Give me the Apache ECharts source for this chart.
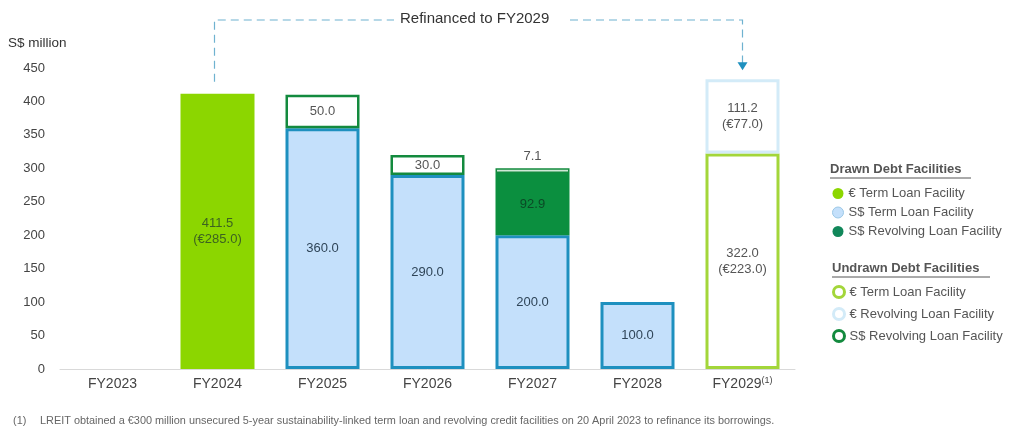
<!DOCTYPE html>
<html>
<head>
<meta charset="utf-8">
<script src="https://cdn.jsdelivr.net/npm/echarts@6/dist/echarts.min.js"></script>
<style>
  html,body{margin:0;padding:0;background:#fff;}
  #box{width:1024px;height:430px;}
</style>
</head>
<body>
<div id="box"></div>
<script>
// data
var categories = ['FY2023','FY2024','FY2025','FY2026','FY2027','FY2028','FY2029'];
var euroTermDrawn   = [null, 411.5, null, null, null, null, null];
var sgdTermDrawn    = [null, null, 360.0, 290.0, 200.0, 100.0, null];
var sgdRevDrawn     = [null, null, null, null, 92.9, null, null];
var sgdRevUndrawn   = [null, null, 50.0, 30.0, 7.1, null, null];
var euroTermUndrawn = [null, null, null, null, null, null, 322.0];
var euroRevUndrawn  = [null, null, null, null, null, null, 111.2];
// amounts in euro shown under some labels
var euroTermDrawnEur   = [null, 285.0, null, null, null, null, null];
var euroTermUndrawnEur = [null, null, null, null, null, null, 223.0];
var euroRevUndrawnEur  = [null, null, null, null, null, null, 77.0];
var yTicks = {min:0, max:450, interval:50};

var font = '"Liberation Sans", Arial, sans-serif';

var fix = arr => arr.map(v => v == null ? '-' : v);
var lbl = eur => (p => {
  var s = (+p.value).toFixed(1);
  if (eur && eur[p.dataIndex] != null) s += '\n(€' + eur[p.dataIndex].toFixed(1) + ')';
  return s;
});

function bar(name, data, style, label){
  return {
    name:name, type:'bar', stack:'debt', barWidth:74,
    data:fix(data),
    itemStyle:style,
    label:Object.assign({show:true, position:'inside', fontFamily:font, fontSize:13, color:'#444', lineHeight:16}, label),
    emphasis:{disabled:true}
  };
}

var mychart = echarts.init(document.getElementById('box'));

var option = {
  animation:false,
  textStyle:{fontFamily:font},
  grid:{left:60, right:229, top:68, bottom:61},
  xAxis:{
    type:'category', data:categories,
    axisLine:{lineStyle:{color:'#d9d9d9', width:1}},
    axisTick:{show:false},
    axisLabel:{
      interval:0, fontSize:14, color:'#444', margin:7, fontFamily:font, lineHeight:16,
      formatter: v => v == 'FY2029' ? v + '{sup|(1)}' : v,
      rich:{sup:{fontSize:9, color:'#444', lineHeight:16, verticalAlign:'top', fontFamily:font}}
    }
  },
  yAxis:{
    type:'value', min:yTicks.min, max:yTicks.max, interval:yTicks.interval,
    splitLine:{show:false},
    axisLine:{show:false}, axisTick:{show:false},
    axisLabel:{fontSize:13, color:'#444', margin:15, fontFamily:font}
  },
  legend:[{
    orient:'vertical', left:827, top:182, itemGap:6, itemWidth:11, itemHeight:11,
    selectedMode:false, icon:'circle',
    textStyle:{fontSize:13, color:'#555', fontFamily:font},
    formatter: n => n.replace(/^(Drawn|Undrawn) /, ''),
    data:[
      {name:'Drawn € Term Loan Facility', itemStyle:{color:'#8cd600', borderWidth:0}},
      {name:'Drawn S$ Term Loan Facility', itemStyle:{color:'#c4e0fb', borderColor:'#9cc8e6', borderWidth:1}},
      {name:'Drawn S$ Revolving Loan Facility', itemStyle:{color:'#11875a', borderWidth:0}}
    ]
  },{
    orient:'vertical', left:827, top:280, itemGap:8, itemWidth:11, itemHeight:11,
    selectedMode:false, icon:'circle',
    textStyle:{fontSize:13, color:'#555', fontFamily:font},
    formatter: n => n.replace(/^(Drawn|Undrawn) /, ''),
    data:[
      {name:'Undrawn € Term Loan Facility', itemStyle:{color:'#fff', borderColor:'#a3d63a', borderWidth:3}},
      {name:'Undrawn € Revolving Loan Facility', itemStyle:{color:'#fff', borderColor:'#d3ebf8', borderWidth:3}},
      {name:'Undrawn S$ Revolving Loan Facility', itemStyle:{color:'#fff', borderColor:'#138a3e', borderWidth:3}}
    ]
  }],
  series:[
    bar('Drawn € Term Loan Facility', euroTermDrawn, {color:'#8cd600'}, {color:'#3d6320', formatter:lbl(euroTermDrawnEur)}),
    bar('Drawn S$ Term Loan Facility', sgdTermDrawn, {color:'#c4e0fb', borderColor:'#1e90bf', borderWidth:3}, {color:'#2f4558', formatter:lbl(null)}),
    bar('Drawn S$ Revolving Loan Facility', sgdRevDrawn, {color:'#0b8f3f', borderColor:'#0b8f3f', borderWidth:3}, {color:'#0b4a26', formatter:lbl(null)}),
    bar('Undrawn S$ Revolving Loan Facility', sgdRevUndrawn, {color:'#fff', borderColor:'#138a3e', borderWidth:2.5}, {color:'#555', formatter:lbl(null)}),
    bar('Undrawn € Term Loan Facility', euroTermUndrawn, {color:'#fff', borderColor:'#a3d63a', borderWidth:3}, {color:'#555', formatter:lbl(euroTermUndrawnEur)}),
    bar('Undrawn € Revolving Loan Facility', euroRevUndrawn, {color:'#fff', borderColor:'#d3ebf8', borderWidth:3}, {color:'#555', formatter:lbl(euroRevUndrawnEur)})
  ]
};
// tiny top segment: label goes above the bar
option.series[3].data = sgdRevUndrawn.map(v => v == null ? '-' : (v < 10 ? {value:v, label:{position:'top', distance:4}, itemStyle:{borderWidth:1.5, color:'#cfe8d6'}} : v));

mychart.setOption(option);

// refinancing connector, placed from the axes
var x24 = mychart.convertToPixel({xAxisIndex:0}, 'FY2024');
var x29 = mychart.convertToPixel({xAxisIndex:0}, 'FY2029');
var y24 = mychart.convertToPixel({yAxisIndex:0}, euroTermDrawn[1]);
var y29 = mychart.convertToPixel({yAxisIndex:0}, euroTermUndrawn[6] + euroRevUndrawn[6]);
var lineY = 20, mid = (x24 + x29) / 2;
var dash = {stroke:'#6fb2d0', lineWidth:1.2, lineDash:[8,5], fill:null};

mychart.setOption({
  graphic:[
    {type:'polyline', shape:{points:[[x24-3, y24-12],[x24-3, lineY],[mid-86, lineY]]}, style:dash, silent:true},
    {type:'polyline', shape:{points:[[mid+90, lineY],[x29, lineY],[x29, y29-16]]}, style:dash, silent:true},
    {type:'polygon', shape:{points:[[x29-5, y29-17],[x29+5, y29-17],[x29, y29-9]]}, style:{fill:'#1e90bf'}, silent:true},
    {type:'text', left:mid-80, top:lineY-9, style:{text:'Refinanced to FY2029', fill:'#333', font:'15px ' + font}},
    {type:'text', left:8, top:36, style:{text:'S$ million', fill:'#333', font:'13.5px ' + font}},
    {type:'text', left:830, top:163, style:{text:'Drawn Debt Facilities', fill:'#555', font:'bold 13px ' + font}},
    {type:'line', shape:{x1:830, y1:178, x2:971, y2:178}, style:{stroke:'#555', lineWidth:1}},
    {type:'text', left:832, top:262, style:{text:'Undrawn Debt Facilities', fill:'#555', font:'bold 13px ' + font}},
    {type:'line', shape:{x1:832, y1:277, x2:990, y2:277}, style:{stroke:'#555', lineWidth:1}},
    {type:'text', left:13, top:415, style:{text:'(1)', fill:'#666', font:'10.9px ' + font}},
    {type:'text', left:40, top:415, style:{text:'LREIT obtained a €300 million unsecured 5-year sustainability-linked term loan and revolving credit facilities on 20 April 2023 to refinance its borrowings.', fill:'#666', font:'10.9px ' + font}}
  ]
});
</script>
</body>
</html>
